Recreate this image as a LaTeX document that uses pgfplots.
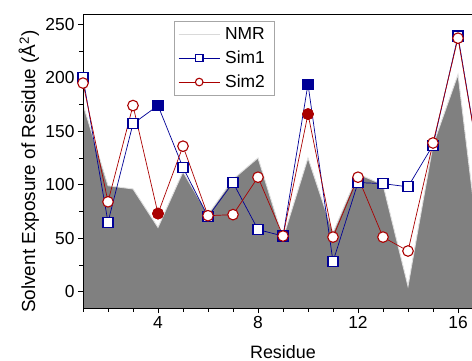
\documentclass[border=0pt]{standalone}
\usepackage{pgfplots}
\pgfplotsset{compat=1.18}
\usepackage{fontspec}
\setmainfont{Liberation Sans}
\definecolor{simblue}{RGB}{0,0,150}
\definecolor{simred}{RGB}{170,0,0}
\definecolor{nmrgray}{RGB}{128,128,128}
\begin{document}
\begin{tikzpicture}
\begin{axis}[
  at={(0,0)}, anchor=south west,
  scale only axis, width=389bp, height=294bp,
  xmin=1, xmax=16.56, ymin=-15.3, ymax=259.6,
  separate axis lines, axis x line*=box, axis y line*=left,
  axis line style={line width=0.8bp, black},
  axis on top,
  xtick={4,8,12,16}, minor xtick={1,...,17},
  ytick={0,50,...,250}, minor ytick={-25,25,75,125,175,225},
  tick align=outside, xtick pos=bottom, ytick pos=left,
  major tick length=5bp, minor tick length=3.5bp,
  every tick/.style={black, line width=0.6bp},
  /pgf/number format/assume math mode=true,
  ticklabel style={font=\fontsize{17.5}{20}\selectfont},
  xlabel={Residue},
  xlabel style={font=\fontsize{18}{21}\selectfont, at={(axis description cs:0.514,0)}, anchor=base, yshift=-50bp},
  ylabel={Solvent Exposure of Residue (Å\textsuperscript{2})},
  ylabel style={font=\fontsize{19}{22}\selectfont, at={(axis description cs:-0.123,0.464)}, anchor=base, rotate=0},
  legend style={at={(axis description cs:0.234,0.976)}, anchor=north west,
    draw=gray!70, line width=0.6bp, font=\fontsize{17.5}{20}\selectfont,
    inner xsep=4bp, inner ysep=6bp, row sep=10bp,
    nodes={inner xsep=5bp, inner ysep=0bp},
    cells={anchor=west}},
  legend image code/.code={\draw[mark repeat=2,mark phase=2,#1] plot coordinates {(0bp,0bp) (20.5bp,0bp) (41bp,0bp)};},
  every legend image post/.style={mark size=3.8bp},
]
\addplot[fill=nmrgray, draw=gray!25, line width=0.9bp,
  legend image code/.code={\draw[gray!30, line width=0.8bp] (0bp,0bp) -- (41bp,0bp);}]
  coordinates {(1,-40) (1,175) (2,99) (3,96) (4,60) (5,112) (6,72) (7,105) (8,125) (9,50) (10,125) (11,55) (12,110) (13,100) (14,5) (15,137) (16,203) (17,10) (17,-40)} -- cycle;
\addlegendentry{NMR}
\addplot[simblue, line width=0.7bp, mark=square*, mark size=5bp,
  mark options={fill=white, draw=simblue, line width=1.1bp}]
  coordinates {(1,200) (2,65) (3,157) (4,174) (5,116) (6,70) (7,102) (8,58) (9,52) (10,194) (11,28) (12,102) (13,101) (14,98) (15,137) (16,239) (17,100)};
\addlegendentry{Sim1}
\addplot[simred, line width=0.7bp, mark=*, mark size=5.3bp,
  mark options={fill=white, draw=simred, line width=1.1bp}]
  coordinates {(1,195) (2,84) (3,174) (4,73) (5,136) (6,71) (7,72) (8,107) (9,52) (10,166) (11,51) (12,107) (13,51) (14,38) (15,139) (16,237) (17,100)};
\addlegendentry{Sim2}
\addplot[only marks, mark=square*, mark size=5bp, mark options={fill=simblue, draw=simblue, line width=1.1bp}, forget plot]
  coordinates {(4,174) (10,194)};
\addplot[only marks, mark=*, mark size=5.3bp, mark options={fill=simred, draw=simred, line width=1.1bp}, forget plot]
  coordinates {(4,73) (10,166)};
\end{axis}
\pgfresetboundingbox
\path (-83bp,-53bp) rectangle (389bp,308bp);
\end{tikzpicture}
\end{document}
